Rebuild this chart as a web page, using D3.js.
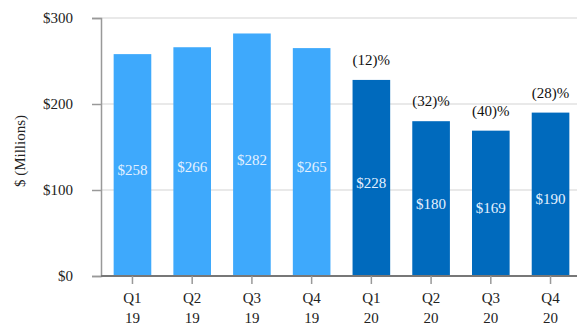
<!DOCTYPE html>
<html><head><meta charset="utf-8">
<script src="https://cdn.jsdelivr.net/npm/d3@7"></script>
<style>body{margin:0;background:#fff}svg{display:block}svg text{font-family:"Liberation Serif",serif !important}</style>
</head><body><svg width="577" height="329" font-family="Liberation Serif"></svg>
<script>
const quarters = ["Q1","Q2","Q3","Q4","Q1","Q2","Q3","Q4"];
const years = ["19","19","19","19","20","20","20","20"];
const values = [258,266,282,265,228,180,169,190];
const changes = [null,null,null,null,"(12)%","(32)%","(40)%","(28)%"];
const yTicks = [0,100,200,300];
const colors = {y19:"#3EA9FC", y20:"#006ABD"};
const FONT = "Liberation Serif";

const svg = d3.select("svg");
const x = d3.scaleBand().domain(d3.range(values.length)).range([102.6,580.4]).paddingInner(0.37).paddingOuter(0.185);
const y = d3.scaleLinear().domain([0,300]).range([276,18]);

// gridlines
svg.append("g").selectAll("line").data(yTicks.filter(d=>d>0)).join("line")
  .attr("x1",101).attr("x2",577).attr("y1",d=>y(d)).attr("y2",d=>y(d))
  .attr("stroke","#e2e2e2").attr("stroke-width",1.5);

// y axis
const ya = svg.append("g").attr("transform","translate(101,0)")
  .call(d3.axisLeft(y).tickValues(yTicks).tickFormat(d=>"$"+d).tickSize(9).tickPadding(19))
  .attr("font-family",FONT);
ya.select(".domain").attr("stroke","#999").attr("stroke-width",1.5);
ya.selectAll(".tick line").attr("stroke","#999").attr("stroke-width",1.5);
ya.selectAll(".tick text").attr("font-size",15).attr("fill","#222").style("font-family",FONT);

svg.append("text").attr("transform","translate(25,151) rotate(-90)").attr("text-anchor","middle")
  .attr("font-size",15).attr("fill","#222").style("font-family",FONT).text("$ (Millions)");

// bars
svg.append("g").selectAll("rect").data(values).join("rect")
  .attr("x",(d,i)=>x(i)).attr("width",x.bandwidth())
  .attr("y",d=>y(d)).attr("height",d=>y(0)-y(d))
  .attr("fill",(d,i)=>years[i]==="19"?colors.y19:colors.y20);

// value labels
svg.append("g").selectAll("text").data(values).join("text")
  .attr("x",(d,i)=>x(i)+x.bandwidth()/2).attr("y",d=>(y(d)+y(0))/2+10)
  .attr("text-anchor","middle").attr("font-size",15).attr("fill","#e4f1ff").style("font-family",FONT)
  .text(d=>"$"+d);

// change labels
svg.append("g").selectAll("text").data(values.map((v,i)=>({v,i,c:changes[i]})).filter(d=>d.c)).join("text")
  .attr("x",d=>x(d.i)+x.bandwidth()/2).attr("y",d=>y(d.v)-15)
  .attr("text-anchor","middle").attr("font-size",15).attr("fill","#111").style("font-family",FONT)
  .text(d=>d.c);

// x axis
const xa = svg.append("g").attr("transform","translate(0,276)");
xa.append("line").attr("x1",101).attr("x2",577).attr("stroke","#777").attr("stroke-width",2);
const xt = xa.selectAll("g").data(values).join("g").attr("transform",(d,i)=>`translate(${x(i)+x.bandwidth()/2},0)`);
xt.append("line").attr("y1",0).attr("y2",8).attr("stroke","#999").attr("stroke-width",1.5);
xt.append("text").attr("y",27).attr("text-anchor","middle").attr("font-size",15).attr("fill","#222").style("font-family",FONT).text((d,i)=>quarters[i]);
xt.append("text").attr("y",47).attr("text-anchor","middle").attr("font-size",15).attr("fill","#222").style("font-family",FONT).text((d,i)=>years[i]);
</script></body></html>
